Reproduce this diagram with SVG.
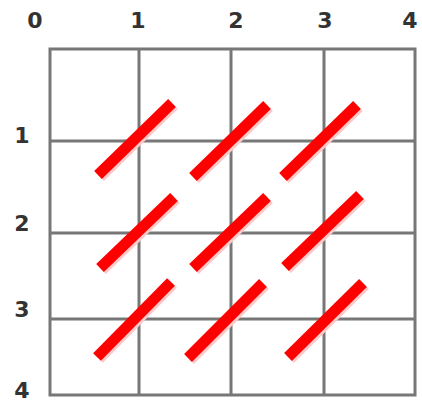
<svg xmlns="http://www.w3.org/2000/svg" width="422" height="404" viewBox="0 0 422 404">
<style>
.grid{stroke:#777;stroke-width:3;fill:none}
.lbl{font-family:"DejaVu Sans",sans-serif;font-weight:bold;font-size:22px;fill:#333;text-anchor:middle}
.seg{stroke:#ff0000;stroke-width:11;stroke-linecap:butt}
.sh{stroke:#ffc8c8;stroke-width:11;stroke-linecap:butt}
</style>
<rect width="422" height="404" fill="#fff"/>
<g id="grid">
<rect class="grid" x="50" y="49" width="365" height="346"/>
<line class="grid" x1="139" y1="49" x2="139" y2="395"/>
<line class="grid" x1="231" y1="49" x2="231" y2="395"/>
<line class="grid" x1="324" y1="49" x2="324" y2="395"/>
<line class="grid" x1="50" y1="141" x2="415" y2="141"/>
<line class="grid" x1="50" y1="233" x2="415" y2="233"/>
<line class="grid" x1="50" y1="319" x2="415" y2="319"/>
</g>
<g id="labels">
<text class="lbl" x="35" y="28">0</text>
<text class="lbl" x="138" y="28">1</text>
<text class="lbl" x="236" y="28">2</text>
<text class="lbl" x="325" y="28">3</text>
<text class="lbl" x="410" y="28">4</text>
<text class="lbl" x="22" y="143">1</text>
<text class="lbl" x="22" y="231">2</text>
<text class="lbl" x="22" y="317">3</text>
<text class="lbl" x="22" y="398">4</text>
</g>
<g id="shadows">
<line class="sh" x1="100" y1="177" x2="174" y2="105"/>
<line class="sh" x1="195" y1="179" x2="269" y2="107"/>
<line class="sh" x1="285" y1="179" x2="359" y2="107"/>
<line class="sh" x1="102" y1="270" x2="176" y2="199"/>
<line class="sh" x1="195" y1="270" x2="269" y2="199"/>
<line class="sh" x1="287" y1="269" x2="362" y2="197"/>
<line class="sh" x1="99" y1="359" x2="173" y2="284"/>
<line class="sh" x1="190" y1="360" x2="265" y2="285"/>
<line class="sh" x1="290" y1="359" x2="365" y2="285"/>
</g>
<g id="segments">
<line class="seg" x1="98" y1="175" x2="172" y2="103"/>
<line class="seg" x1="193" y1="177" x2="267" y2="105"/>
<line class="seg" x1="283" y1="177" x2="357" y2="105"/>
<line class="seg" x1="100" y1="268" x2="174" y2="197"/>
<line class="seg" x1="193" y1="268" x2="267" y2="197"/>
<line class="seg" x1="285" y1="267" x2="360" y2="195"/>
<line class="seg" x1="97" y1="357" x2="171" y2="282"/>
<line class="seg" x1="188" y1="358" x2="263" y2="283"/>
<line class="seg" x1="288" y1="357" x2="363" y2="283"/>
</g>
</svg>
